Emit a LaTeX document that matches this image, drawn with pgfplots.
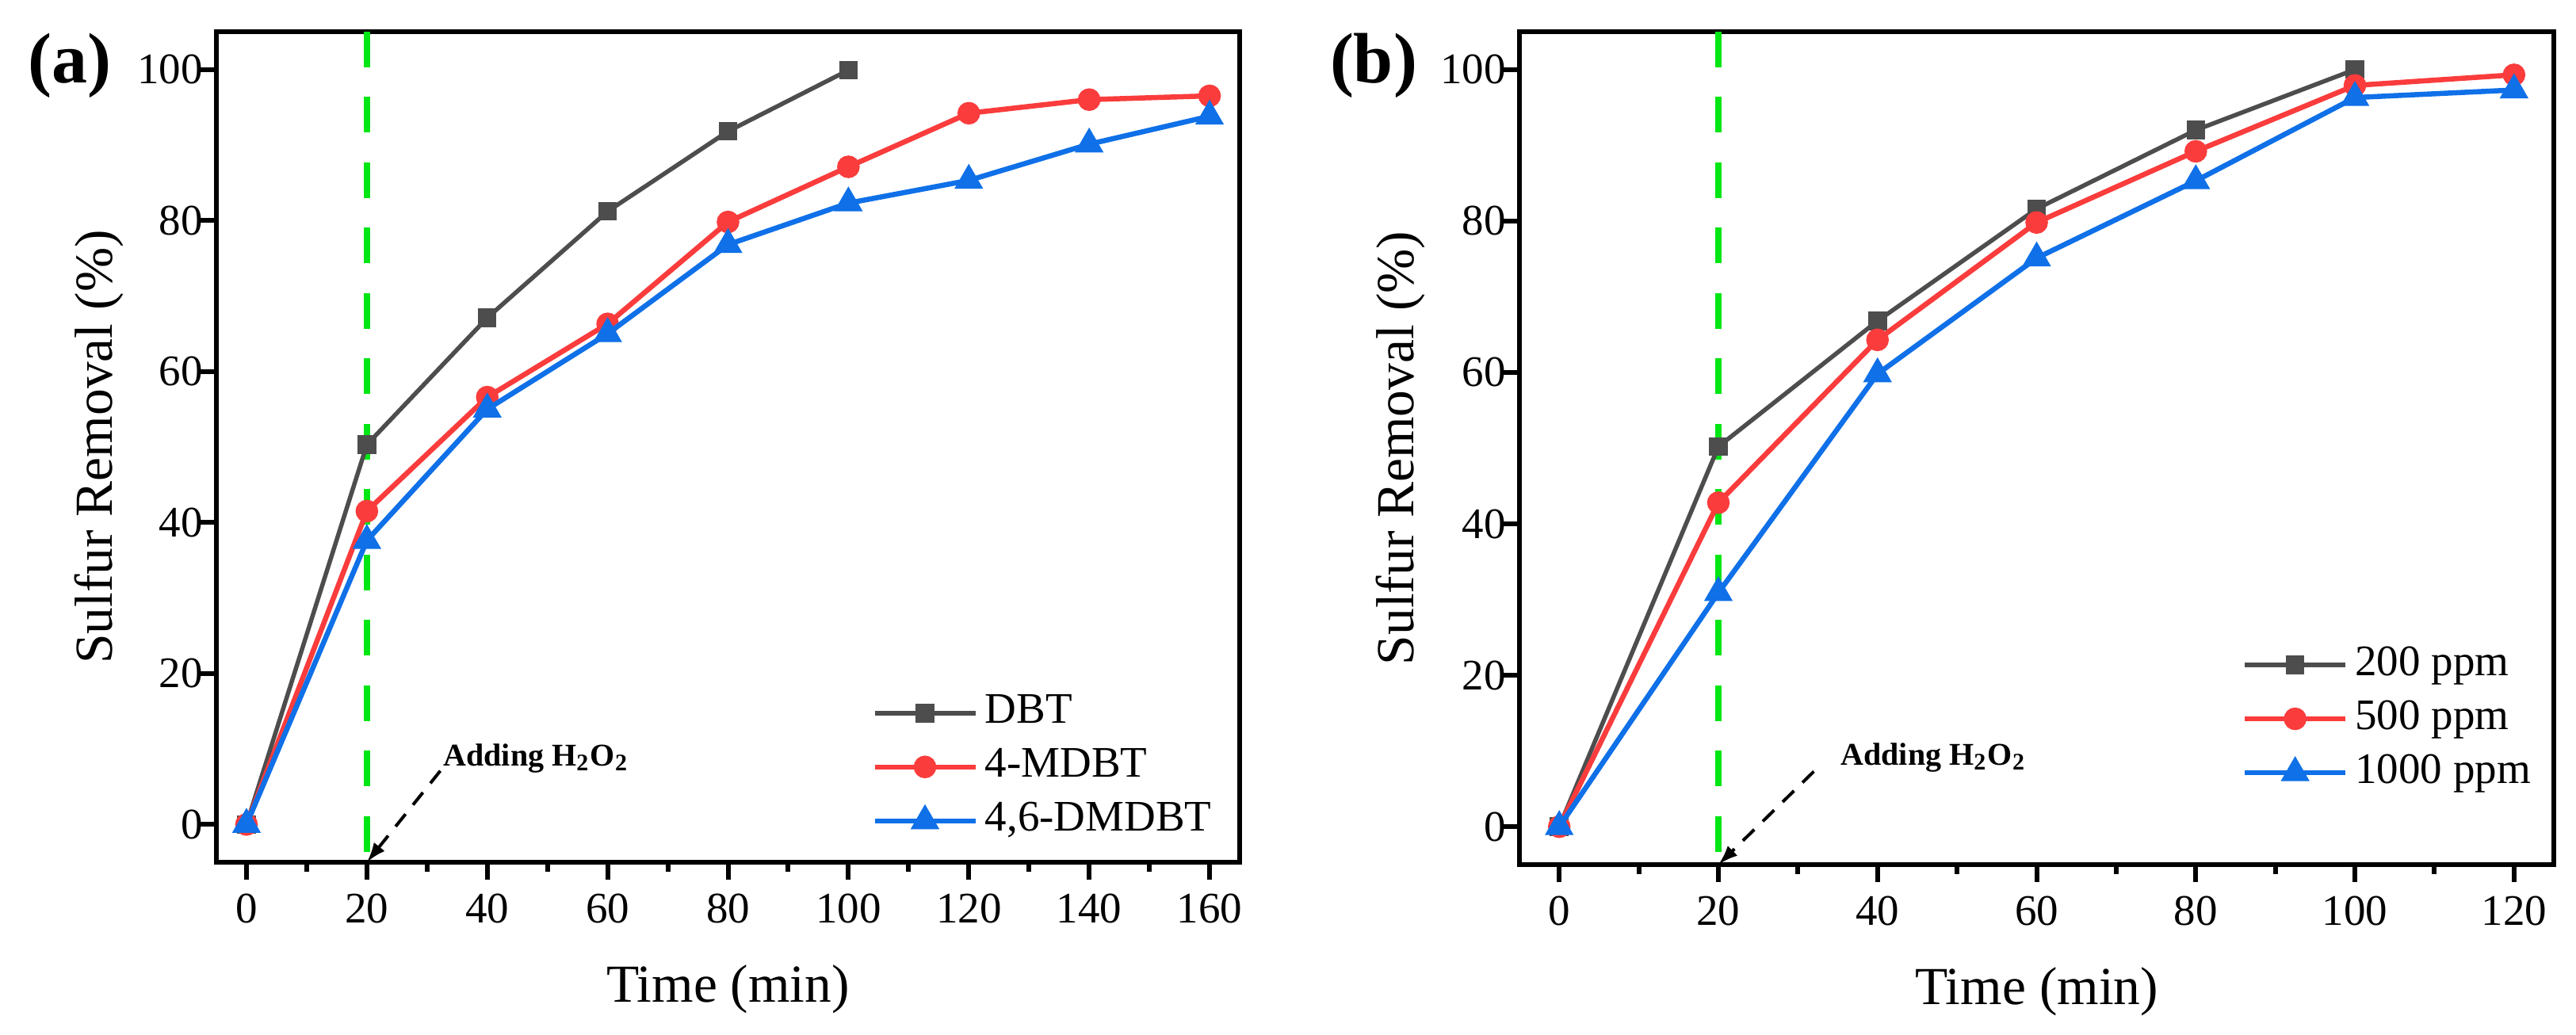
\documentclass[border=0pt]{standalone}
\usepackage{fontspec}
\setmainfont{Liberation Serif}
\usepackage{pgfplots}
\pgfplotsset{compat=1.18}
\usetikzlibrary{arrows.meta}
\definecolor{cgray}{RGB}{77,77,77}
\definecolor{cred}{RGB}{250,60,60}
\definecolor{cblue}{RGB}{15,112,232}
\definecolor{cgreen}{RGB}{0,230,20}
\pgfplotsset{
  myaxis/.style={
    scale only axis,
    clip mode=individual,
    /pgf/number format/assume math mode=true,
    ymin=-5, ymax=105,
    ytick={0,20,40,60,80,100},
    tick pos=left,
    tick align=outside,
    major tick length=4.4pt,
    minor tick length=2.4pt,
    every tick/.style={line width=1.2pt, black},
    axis line style={line width=1.2pt},
    tick label style={font=\fontsize{11}{13}\selectfont},
    yticklabel style={xshift=4.5pt},
    label style={font=\fontsize{13.5}{16}\selectfont},
    xlabel={Time (min)},
    ylabel={Sulfur Removal (\%)},
    xlabel style={at={(axis description cs:0.5,0)}, anchor=center, yshift=-32pt},
    ylabel style={at={(axis description cs:-0.115,0.5)}, anchor=center},
    legend cell align=left,
    legend style={draw=none, fill=none, inner sep=0pt, row sep=0pt,
      font=\fontsize{11}{13}\selectfont,
      nodes={text height=7.6pt, text depth=2.4pt, inner sep=1.8pt}},
    legend image code/.code={\draw[mark repeat=2,mark phase=2] plot coordinates {(0pt,0pt) (12.7pt,0pt) (25.4pt,0pt)};},
  },
  sgray/.style={color=cgray, line width=1.1pt, mark=square*, mark size=1.8pt, mark options={solid, fill=cgray}},
  sred/.style={color=cred, line width=1.3pt, mark=*, mark size=2.2pt, mark options={solid, fill=cred}},
  sblue/.style={color=cblue, line width=1.3pt, mark=triangle*, mark size=2.9pt, mark options={solid, fill=cblue}},
}
\begin{document}
\begin{tikzpicture}
\useasboundingbox (0,0) rectangle (650pt,261.2pt);
% ---------------- panel (a)
\begin{axis}[myaxis,
  at={(54.6pt,43.6pt)}, anchor=south west,
  width=258.2pt, height=209.6pt,
  xmin=-5, xmax=165,
  xtick={0,20,...,160},
  minor xtick={10,30,...,150},
  legend style={at={(axis description cs:0.64,0.213)}, anchor=north west},
]
\addplot[cgreen, line width=1.6pt, dash pattern=on 9pt off 7.5pt, forget plot] coordinates {(20,105) (20,-5)};
\addplot[sgray] coordinates {(0,0) (20,50.3) (40,67.1) (60,81.2) (80,91.8) (100,99.9)};
\addlegendentry{DBT}
\addplot[sred] coordinates {(0,0) (20,41.5) (40,56.6) (60,66.3) (80,79.8) (100,87.1) (120,94.2) (140,96.0) (160,96.5)};
\addlegendentry{4-MDBT}
\addplot[sblue] coordinates {(0,0) (20,37.6) (40,55.0) (60,65.0) (80,76.8) (100,82.3) (120,85.3) (140,90.1) (160,93.8)};
\addlegendentry{4,6-DMDBT}
\draw[black, line width=0.8pt, dash pattern=on 4pt off 3pt, -{Latex[length=5pt,width=3.5pt]}] (axis cs:32.2,7.1) -- (axis cs:20,-5);
\node[font=\bfseries\fontsize{8}{9}\selectfont, anchor=base west, inner sep=0pt] at (axis cs:32.6,7.8) {Adding H\textsubscript{2}O\textsubscript{2}};
\node[font=\bfseries\fontsize{18}{20}\selectfont, anchor=center] at (axis description cs:-0.143,0.959) {(a)};
\end{axis}
% ---------------- panel (b)
\begin{axis}[myaxis,
  at={(383.4pt,43.0pt)}, anchor=south west,
  width=261pt, height=210.2pt,
  xmin=-5, xmax=125,
  xtick={0,20,...,120},
  minor xtick={10,30,...,110},
  legend style={at={(axis description cs:0.698,0.273)}, anchor=north west},
]
\addplot[cgreen, line width=1.6pt, dash pattern=on 9pt off 7.5pt, forget plot] coordinates {(20,105) (20,-5)};
\addplot[sgray] coordinates {(0,0) (20,50.2) (40,66.8) (60,81.6) (80,92.0) (100,100)};
\addlegendentry{200 ppm}
\addplot[sred] coordinates {(0,0) (20,42.8) (40,64.3) (60,79.8) (80,89.2) (100,97.9) (120,99.3)};
\addlegendentry{500 ppm}
\addplot[sblue] coordinates {(0,0) (20,30.9) (40,59.8) (60,75.1) (80,85.3) (100,96.3) (120,97.3)};
\addlegendentry{1000 ppm}
\draw[black, line width=0.8pt, dash pattern=on 4pt off 3pt, -{Latex[length=5pt,width=3.5pt]}] (axis cs:32,7.3) -- (axis cs:20,-5);
\node[font=\bfseries\fontsize{8}{9}\selectfont, anchor=base west, inner sep=0pt] at (axis cs:35.3,8.1) {Adding H\textsubscript{2}O\textsubscript{2}};
\node[font=\bfseries\fontsize{18}{20}\selectfont, anchor=center] at (axis description cs:-0.141,0.959) {(b)};
\end{axis}
\end{tikzpicture}
\end{document}
